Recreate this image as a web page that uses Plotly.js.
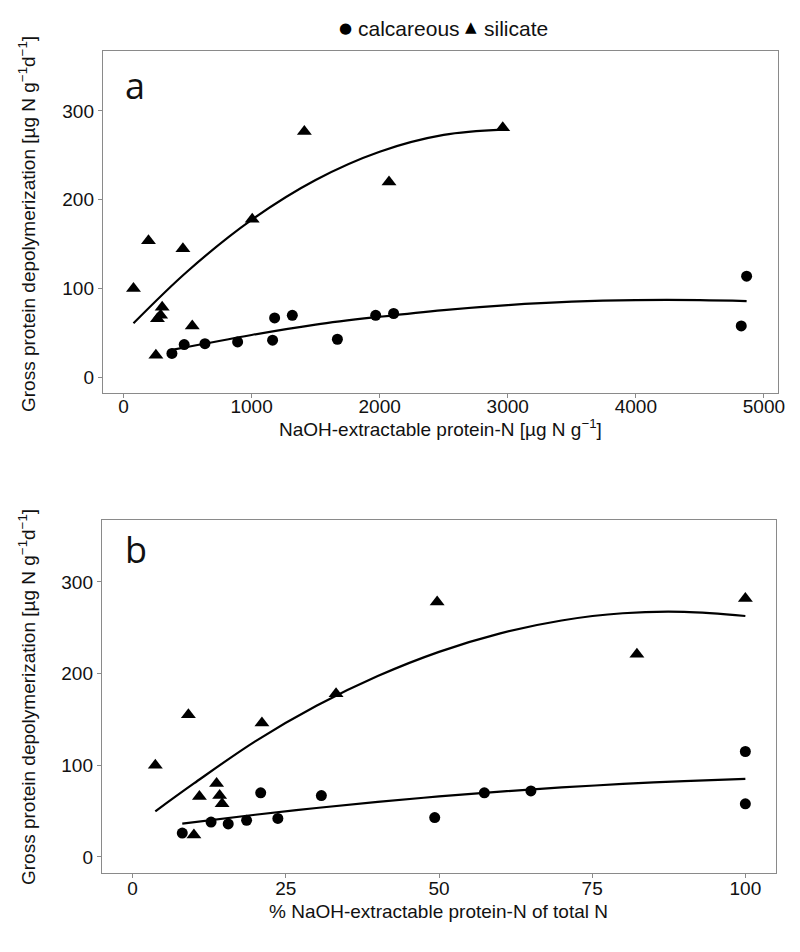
<!DOCTYPE html>
<html>
<head>
<meta charset="utf-8">
<script src="https://cdn.plot.ly/plotly-3.0.1.min.js"></script>
<style>html,body{margin:0;padding:0;background:#fff;}#chart{width:800px;height:952px;}</style>
</head>
<body>
<div id="chart"></div>
<script>
// ---------- Data ----------
// Panel a: NaOH-extractable protein-N [µg N g-1]
const calcA_x = [378, 474, 636, 891, 1164, 1180, 1318, 1670, 1969, 2109, 4865, 4823];
const calcA_y = [27, 37, 38, 40, 42, 67, 70, 43, 70, 72, 114, 58];
const silA_x  = [78, 195, 464, 302, 265, 290, 537, 253, 1005, 1412, 2073, 2961];
const silA_y  = [100, 154, 145, 79, 66, 70, 58, 25, 178, 277, 220, 281];
// fitted curves
const calcFitA_x = [378, 1000, 1500, 2000, 2500, 3000, 3500, 4000, 4500, 4865];
const calcFitA_y = [31, 47.8, 59.5, 68.3, 75.9, 81.5, 85.3, 87.1, 87.1, 86];
const silFitA_x  = [78, 500, 1000, 1500, 2000, 2500, 2961];
const silFitA_y  = [61, 119.6, 177.4, 222.3, 254.1, 273, 278.9];

// Panel b: % NaOH-extractable protein-N of total N
const calcB_x = [8.1, 12.8, 15.6, 18.6, 23.7, 20.9, 30.8, 49.3, 57.4, 65.0, 100, 100];
const calcB_y = [26, 38, 36, 40, 42, 70, 67, 43, 70, 72, 115, 58];
const silB_x  = [3.7, 9.1, 21.1, 13.7, 10.9, 14.2, 14.6, 10.0, 33.2, 49.7, 82.3, 100];
const silB_y  = [100, 155, 146, 80, 66, 67, 58, 24, 178, 278, 221, 282];
const calcFitB_x = [8.1, 20, 30, 40, 50, 60, 70, 80, 90, 100];
const calcFitB_y = [36.4, 46.0, 53.4, 60.1, 66.0, 71.3, 75.8, 79.6, 82.8, 85.2];
const silFitB_x  = [3.7, 10, 20, 30, 40, 50, 60, 70, 80, 90, 100];
const silFitB_y  = [49.8, 80.2, 126.1, 164.9, 197.3, 223.7, 243.9, 257.9, 265.8, 267.3, 262.8];

const xTicksA = [0, 1000, 2000, 3000, 4000, 5000];
const xTicksB = [0, 25, 50, 75, 100];
const yTicks  = [0, 100, 200, 300];

const legendLabels = ['calcareous', 'silicate'];
const panelLetters = ['a', 'b'];
const yTitle = 'Gross protein depolymerization [µg N g<sup>−1</sup>d<sup>−1</sup>]';
const xTitleA = 'NaOH-extractable protein-N [µg N g<sup>−1</sup>]';
const xTitleB = '% NaOH-extractable protein-N of total N';

// ---------- Styling ----------
const W = 800, H = 952;
const px = v => v / W;
const py = v => 1 - v / H;
const FONT = 'Liberation Sans, Arial, sans-serif';
const circle = {symbol: 'circle', size: 11, color: '#000'};
const tri = {symbol: 'triangle-up', size: 13, color: '#000'};
const fitLine = {color: '#000', width: 2.2, shape: 'spline', smoothing: 1};

const traces = [
  {x: calcA_x, y: calcA_y, mode: 'markers', marker: circle, xaxis: 'x', yaxis: 'y', name: legendLabels[0], showlegend: false},
  {x: silA_x, y: silA_y, mode: 'markers', marker: tri, xaxis: 'x', yaxis: 'y', name: legendLabels[1], showlegend: false},
  {x: calcFitA_x, y: calcFitA_y, mode: 'lines', line: fitLine, xaxis: 'x', yaxis: 'y', showlegend: false},
  {x: silFitA_x, y: silFitA_y, mode: 'lines', line: fitLine, xaxis: 'x', yaxis: 'y', showlegend: false},
  {x: calcB_x, y: calcB_y, mode: 'markers', marker: circle, xaxis: 'x2', yaxis: 'y2', showlegend: false},
  {x: silB_x, y: silB_y, mode: 'markers', marker: tri, xaxis: 'x2', yaxis: 'y2', showlegend: false},
  {x: calcFitB_x, y: calcFitB_y, mode: 'lines', line: fitLine, xaxis: 'x2', yaxis: 'y2', showlegend: false},
  {x: silFitB_x, y: silFitB_y, mode: 'lines', line: fitLine, xaxis: 'x2', yaxis: 'y2', showlegend: false}
];

const axisCommon = {
  showgrid: false, zeroline: false, showline: true, mirror: true,
  linecolor: '#8a8a8a', linewidth: 1.2,
  ticks: 'outside', ticklen: 4, tickwidth: 1, tickcolor: '#8a8a8a',
  tickfont: {family: FONT, size: 19, color: '#111'},
  tickmode: 'array', fixedrange: true
};

const layout = {
  width: W, height: H,
  margin: {l: 0, r: 0, t: 0, b: 0},
  paper_bgcolor: '#fff', plot_bgcolor: '#fff',
  showlegend: false,
  xaxis: Object.assign({}, axisCommon, {domain: [px(103), px(778)], range: [-160, 5110], tickvals: xTicksA, ticktext: xTicksA.map(String), anchor: 'y', ticklabelstandoff: -8}),
  yaxis: Object.assign({}, axisCommon, {domain: [py(393), py(51)], range: [-17.5, 367.5], tickvals: yTicks, ticktext: yTicks.map(String), anchor: 'x'}),
  xaxis2: Object.assign({}, axisCommon, {domain: [px(102), px(776)], range: [-5, 105], tickvals: xTicksB, ticktext: xTicksB.map(String), anchor: 'y2', ticklabelstandoff: -6}),
  yaxis2: Object.assign({}, axisCommon, {domain: [py(873), py(520)], range: [-17.5, 367.5], tickvals: yTicks, ticktext: yTicks.map(String), anchor: 'x2'}),
  annotations: [
    // legend
    {xref: 'paper', yref: 'paper', x: px(345), y: py(28), text: '●', showarrow: false, xanchor: 'center', yanchor: 'middle', font: {family: 'DejaVu Sans', size: 15, color: '#000'}},
    {xref: 'paper', yref: 'paper', x: px(356), y: py(28), text: legendLabels[0], showarrow: false, xanchor: 'left', yanchor: 'middle', font: {family: FONT, size: 21, color: '#111'}},
    {xref: 'paper', yref: 'paper', x: px(471), y: py(27), text: '▲', showarrow: false, xanchor: 'center', yanchor: 'middle', font: {family: 'DejaVu Sans', size: 15, color: '#000'}},
    {xref: 'paper', yref: 'paper', x: px(482), y: py(28), text: legendLabels[1], showarrow: false, xanchor: 'left', yanchor: 'middle', font: {family: FONT, size: 21, color: '#111'}},
    // panel letters
    {xref: 'paper', yref: 'paper', x: px(123), y: py(85), text: panelLetters[0], showarrow: false, xanchor: 'left', yanchor: 'middle', font: {family: 'Open Sans', size: 36, color: '#111'}},
    {xref: 'paper', yref: 'paper', x: px(123), y: py(549), text: panelLetters[1], showarrow: false, xanchor: 'left', yanchor: 'middle', font: {family: 'Open Sans', size: 36, color: '#111'}},
    // axis titles
    {xref: 'paper', yref: 'paper', x: px(440), y: py(428), text: xTitleA, showarrow: false, xanchor: 'center', yanchor: 'middle', font: {family: FONT, size: 19, color: '#111'}},
    {xref: 'paper', yref: 'paper', x: px(439), y: py(911), text: xTitleB, showarrow: false, xanchor: 'center', yanchor: 'middle', font: {family: FONT, size: 19, color: '#111'}},
    {xref: 'paper', yref: 'paper', x: px(27), y: py(224), text: yTitle, textangle: -90, showarrow: false, xanchor: 'center', yanchor: 'middle', font: {family: FONT, size: 19, color: '#111'}},
    {xref: 'paper', yref: 'paper', x: px(27), y: py(697), text: yTitle, textangle: -90, showarrow: false, xanchor: 'center', yanchor: 'middle', font: {family: FONT, size: 19, color: '#111'}}
  ]
};

Plotly.newPlot('chart', traces, layout, {staticPlot: true, displayModeBar: false});
</script>
</body>
</html>
